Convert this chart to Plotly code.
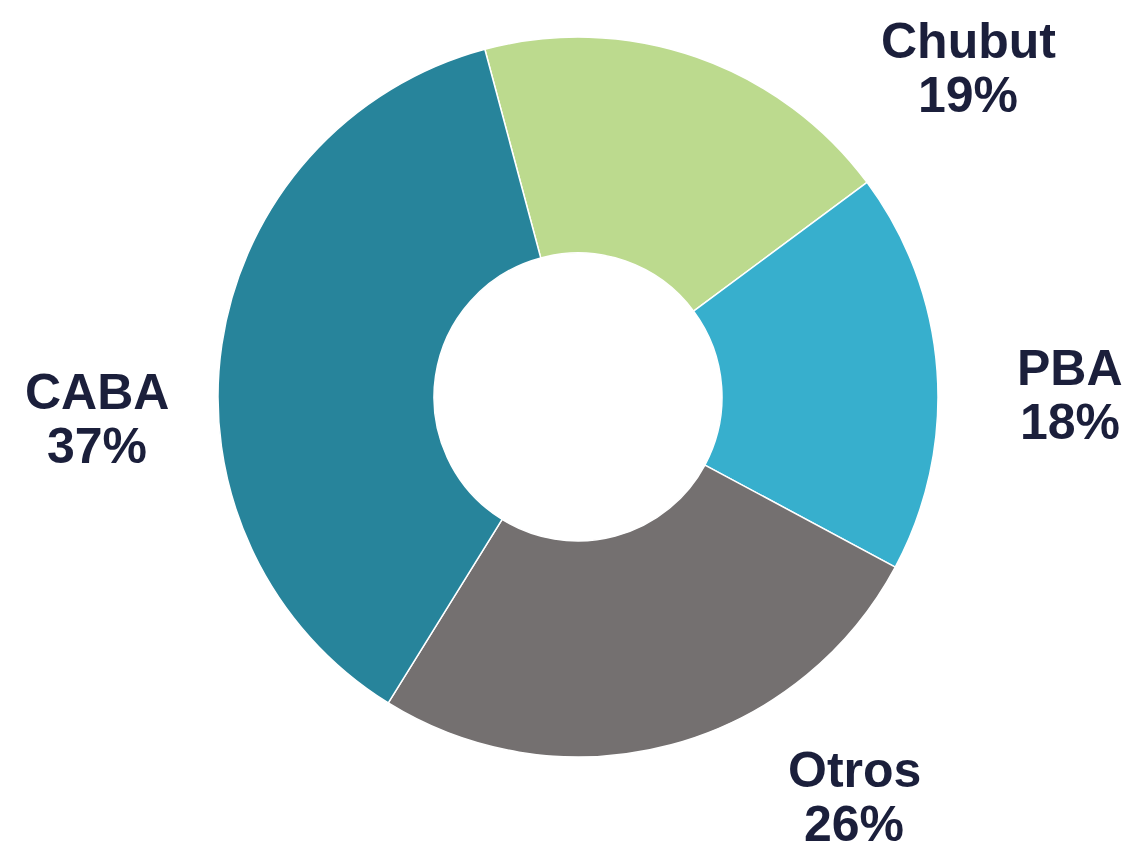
import plotly.graph_objects as go

labels = ["Chubut", "PBA", "Otros", "CABA"]
values = [19, 18, 26, 37]
colors = ["#BCDA8E", "#37AFCD", "#747070", "#27849B"]
# label anchor positions in pixels (x, y of name line center) for a 1126x850 canvas
label_px = [(968, 41), (1070, 368), (854, 770), (97, 392)]

W, H = 1126, 850
cx, cy, r = 578, 397, 360

fig = go.Figure(go.Pie(
    labels=labels, values=values, sort=False, direction="clockwise",
    rotation=-15, hole=0.40, textinfo="none", hoverinfo="label+percent",
    marker=dict(colors=colors, line=dict(color="white", width=1.5)),
    domain=dict(x=[(cx - r) / W, (cx + r) / W], y=[(H - cy - r) / H, (H - cy + r) / H]),
    showlegend=False,
))

font = dict(family="Liberation Sans, Arial, sans-serif", size=50, color="#1B1F3B")
for lab, val, (px, py) in zip(labels, values, label_px):
    for txt, dy in ((lab, 0), (f"{val}%", 54)):
        fig.add_annotation(x=px / W, y=1 - (py + dy) / H, xref="paper", yref="paper",
                           text=f"<b>{txt}</b>", showarrow=False, font=font,
                           xanchor="center", yanchor="middle")

fig.update_layout(width=W, height=H, margin=dict(l=0, r=0, t=0, b=0),
                  paper_bgcolor="white", plot_bgcolor="white")
fig.write_html("out.html", config={"displayModeBar": False})

with open("out.html", "r", encoding="utf-8") as f:
    html = f.read()
html = html.replace("<body>", '<body style="margin:0;padding:0;overflow:hidden">', 1)
with open("out.html", "w", encoding="utf-8") as f:
    f.write(html)
